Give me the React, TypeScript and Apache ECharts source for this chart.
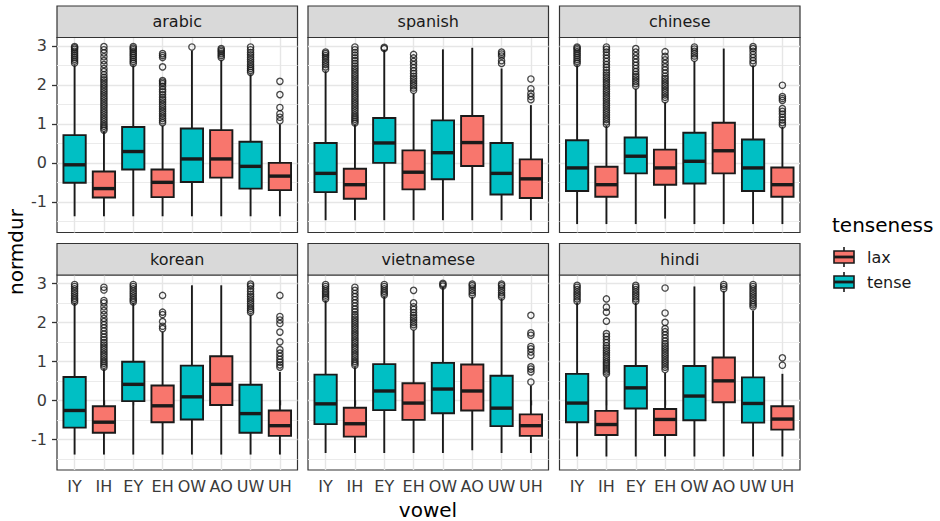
import React, { useEffect, useRef } from 'react';
import * as echarts from 'echarts';

const vowels = ['IY', 'IH', 'EY', 'EH', 'OW', 'AO', 'UW', 'UH'];
const vowelTense = [1, 0, 1, 0, 1, 0, 1, 0]; // 1 = tense, 0 = lax
const languages = ['arabic', 'spanish', 'chinese', 'korean', 'vietnamese', 'hindi'];
const yTicks = [-1, 0, 1, 2, 3];
const yMinorTicks = [-1.5, -0.5, 0.5, 1.5, 2.5];

// [lower whisker, Q1, median, Q3, upper whisker] per vowel
const arabicBoxes = [
  [-1.37, -0.51, -0.05, 0.71, 2.5], [-1.37, -0.89, -0.66, -0.22, 0.8], [-1.37, -0.17, 0.29, 0.92, 2.5],
  [-1.37, -0.88, -0.5, -0.17, 0.95], [-1.37, -0.49, 0.1, 0.88, 2.88], [-1.37, -0.38, 0.1, 0.84, 2.63],
  [-1.37, -0.66, -0.09, 0.54, 2.27], [-1.37, -0.7, -0.34, 0.0, 0.99],
];
const spanishBoxes = [
  [-1.47, -0.75, -0.27, 0.51, 2.35], [-1.47, -0.92, -0.56, -0.15, 0.97], [-1.47, 0.0, 0.51, 1.15, 2.9],
  [-1.47, -0.68, -0.24, 0.32, 1.78], [-1.47, -0.42, 0.26, 1.09, 2.91], [-1.47, -0.08, 0.52, 1.2, 2.95],
  [-1.47, -0.81, -0.27, 0.51, 2.42], [-1.47, -0.9, -0.41, 0.09, 1.48],
];
const chineseBoxes = [
  [-1.57, -0.72, -0.13, 0.58, 2.5], [-1.57, -0.87, -0.56, -0.1, 0.95], [-1.57, -0.27, 0.17, 0.65, 1.9],
  [-1.43, -0.56, -0.13, 0.34, 1.55], [-1.57, -0.53, 0.04, 0.77, 2.6], [-1.57, -0.27, 0.31, 1.03, 2.93],
  [-1.57, -0.72, -0.13, 0.6, 2.5], [-1.57, -0.87, -0.56, -0.12, 0.92],
];
const koreanBoxes = [
  [-1.39, -0.7, -0.26, 0.6, 2.5], [-1.39, -0.83, -0.56, -0.15, 0.8], [-1.39, -0.02, 0.41, 0.99, 2.5],
  [-1.39, -0.56, -0.14, 0.38, 1.75], [-1.39, -0.49, 0.09, 0.89, 2.95], [-1.39, -0.12, 0.41, 1.13, 2.95],
  [-1.39, -0.83, -0.34, 0.4, 2.2], [-1.39, -0.91, -0.65, -0.26, 0.73],
];
const vietnameseBoxes = [
  [-1.35, -0.61, -0.09, 0.66, 2.55], [-1.35, -0.93, -0.6, -0.19, 0.85], [-1.35, -0.25, 0.24, 0.93, 2.65],
  [-1.35, -0.5, -0.07, 0.44, 1.8], [-1.35, -0.33, 0.29, 0.96, 2.9], [-1.28, -0.26, 0.24, 0.92, 2.65],
  [-1.35, -0.66, -0.2, 0.63, 2.6], [-1.35, -0.91, -0.65, -0.36, 0.38],
];
const hindiBoxes = [
  [-1.44, -0.56, -0.07, 0.68, 2.5], [-1.44, -0.89, -0.62, -0.27, 0.6], [-1.44, -0.21, 0.32, 0.88, 2.5],
  [-1.44, -0.89, -0.49, -0.22, 0.7], [-1.44, -0.51, 0.11, 0.88, 2.92], [-1.44, -0.05, 0.5, 1.1, 2.8],
  [-1.44, -0.57, -0.08, 0.59, 2.3], [-1.44, -0.75, -0.48, -0.15, 0.68],
];

// outliers per vowel
const arabicOutliers = [
  [2.56, 2.61, 2.66, 2.71, 2.76, 2.81, 2.86, 2.91, 2.95, 2.98],
  [0.84, 0.89, 0.94, 0.99, 1.05, 1.11, 1.17, 1.23, 1.29, 1.35, 1.41, 1.47, 1.53, 1.59, 1.65, 1.71, 1.77, 1.83, 1.89, 1.95, 2.01, 2.07, 2.13, 2.19, 2.26, 2.34, 2.42, 2.52, 2.62, 2.72, 2.82, 2.9, 2.98],
  [2.55, 2.6, 2.65, 2.7, 2.75, 2.8, 2.85, 2.9, 2.94, 2.98],
  [1.03, 1.08, 1.14, 1.2, 1.26, 1.32, 1.38, 1.44, 1.5, 1.56, 1.62, 1.68, 1.75, 1.82, 1.88, 1.96, 2.03, 2.07, 2.11, 2.46, 2.7, 2.75, 2.8],
  [2.97],
  [2.7, 2.75, 2.8, 2.85, 2.89, 2.93],
  [2.32, 2.37, 2.42, 2.47, 2.53, 2.59, 2.65, 2.71, 2.77, 2.83, 2.9, 2.97],
  [1.08, 1.17, 1.26, 1.42, 1.75, 2.09],
];
const spanishOutliers = [
  [2.4, 2.46, 2.52, 2.58, 2.64, 2.7, 2.75, 2.8, 2.84],
  [1.02, 1.07, 1.12, 1.17, 1.22, 1.28, 1.34, 1.4, 1.46, 1.52, 1.58, 1.64, 1.7, 1.76, 1.82, 1.88, 1.94, 2.0, 2.06, 2.12, 2.18, 2.24, 2.3, 2.36, 2.42, 2.48, 2.55, 2.62, 2.69, 2.76, 2.83, 2.9, 2.97],
  [2.93, 2.96],
  [1.86, 1.92, 1.98, 2.04, 2.1, 2.16, 2.22, 2.29, 2.36, 2.44, 2.52, 2.6, 2.69, 2.78],
  [],
  [],
  [2.55, 2.62, 2.74, 2.79, 2.84],
  [1.62, 1.7, 1.78, 1.9, 2.15],
];
const chineseOutliers = [
  [2.55, 2.6, 2.65, 2.7, 2.75, 2.8, 2.85, 2.9, 2.94, 2.97],
  [0.99, 1.05, 1.11, 1.17, 1.23, 1.29, 1.35, 1.41, 1.47, 1.53, 1.59, 1.65, 1.71, 1.77, 1.83, 1.89, 1.95, 2.01, 2.07, 2.13, 2.19, 2.25, 2.31, 2.38, 2.45, 2.52, 2.6, 2.68, 2.76, 2.84, 2.91, 2.97],
  [1.97, 2.03, 2.09, 2.15, 2.21, 2.27, 2.34, 2.42, 2.5, 2.58, 2.66, 2.75, 2.84, 2.93],
  [1.62, 1.68, 1.74, 1.8, 1.86, 1.92, 1.98, 2.04, 2.1, 2.16, 2.22, 2.3, 2.38, 2.46, 2.55, 2.64, 2.73, 2.85],
  [2.68, 2.74, 2.8, 2.86, 2.92, 2.97],
  [],
  [2.55, 2.62, 2.7, 2.78, 2.86, 2.93, 2.98],
  [0.97, 1.03, 1.1, 1.17, 1.25, 1.32, 1.39, 1.6, 1.65, 1.7, 1.99],
];
const koreanOutliers = [
  [2.52, 2.57, 2.62, 2.68, 2.74, 2.8, 2.86, 2.92, 2.97],
  [0.85, 0.9, 0.95, 1.0, 1.06, 1.12, 1.18, 1.24, 1.3, 1.36, 1.42, 1.48, 1.55, 1.62, 1.7, 1.78, 1.86, 1.94, 2.02, 2.1, 2.2, 2.3, 2.4, 2.5, 2.56, 2.83, 2.9],
  [2.52, 2.57, 2.62, 2.68, 2.74, 2.8, 2.86, 2.92, 2.97],
  [1.84, 1.9, 2.02, 2.2, 2.26, 2.69],
  [],
  [],
  [2.26, 2.31, 2.36, 2.42, 2.48, 2.54, 2.6, 2.66, 2.72, 2.79, 2.86, 2.93, 2.98],
  [0.85, 0.91, 0.98, 1.05, 1.13, 1.21, 1.3, 1.5, 1.75, 1.97, 2.06, 2.15, 2.69],
];
const vietnameseOutliers = [
  [2.6, 2.65, 2.7, 2.75, 2.8, 2.86, 2.92, 2.97],
  [0.9, 0.95, 1.0, 1.06, 1.12, 1.18, 1.24, 1.3, 1.36, 1.42, 1.48, 1.54, 1.6, 1.66, 1.72, 1.78, 1.84, 1.9, 1.96, 2.02, 2.08, 2.14, 2.2, 2.27, 2.34, 2.42, 2.5, 2.58, 2.66, 2.74, 2.82, 2.9],
  [2.7, 2.75, 2.8, 2.86, 2.92, 2.97],
  [1.88, 1.94, 2.0, 2.06, 2.12, 2.18, 2.25, 2.33, 2.4, 2.5, 2.82],
  [2.93, 2.97, 3.0],
  [2.7, 2.76, 2.82, 2.88, 2.94, 2.98],
  [2.65, 2.7, 2.76, 2.82, 2.88, 2.94, 2.98],
  [0.47, 0.73, 0.8, 0.86, 1.15, 1.24, 1.32, 1.38, 1.67, 1.73, 2.18],
];
const hindiOutliers = [
  [2.54, 2.6, 2.66, 2.72, 2.78, 2.84, 2.9, 2.95],
  [0.68, 0.73, 0.78, 0.83, 0.88, 0.93, 0.98, 1.04, 1.1, 1.16, 1.22, 1.28, 1.34, 1.4, 1.48, 1.56, 1.64, 1.71, 2.03, 2.26, 2.39, 2.6],
  [2.54, 2.6, 2.66, 2.72, 2.78, 2.84, 2.9, 2.95],
  [0.79, 0.85, 0.91, 0.97, 1.03, 1.09, 1.15, 1.21, 1.27, 1.33, 1.39, 1.45, 1.52, 1.6, 1.68, 1.76, 1.84, 2.0, 2.24, 2.88],
  [],
  [2.86, 2.92, 2.97],
  [2.4, 2.45, 2.5, 2.56, 2.62, 2.68, 2.74, 2.8, 2.86, 2.92, 2.97],
  [0.9, 1.09],
];

const allBoxes = [arabicBoxes, spanishBoxes, chineseBoxes, koreanBoxes, vietnameseBoxes, hindiBoxes];
const allOutliers = [arabicOutliers, spanishOutliers, chineseOutliers, koreanOutliers, vietnameseOutliers, hindiOutliers];

const TENSE = '#00BFC4';
const LAX = '#F8766D';
const LINE = '#1a1a1a';
const FONT = 'DejaVu Sans';

// layout
const panelLeft = [57, 308, 559.5];
const panelW = 240.5;
const stripTop = [6, 243.5];
const stripH = 31.5;
const plotTop = [37.5, 275];
const plotH = 195;
const yMin = -1.786;
const yMax = 3.214;

const App = () => {
  const ref = useRef<HTMLDivElement>(null);
  useEffect(() => {
    document.body.style.margin = '0';
    const chart = echarts.init(ref.current!, null, { renderer: 'svg' });
    const grids: any[] = [];
    const xAxes: any[] = [];
    const yAxes: any[] = [];
    const series: any[] = [];
    const graphics: any[] = [];

    languages.forEach((lang, i) => {
      const r = Math.floor(i / 3);
      const c = i % 3;
      const isBottom = r === 1;
      const isLeft = c === 0;
      grids.push({
        left: panelLeft[c], top: plotTop[r], width: panelW, height: plotH,
        show: true, borderColor: '#333', borderWidth: 1.2, backgroundColor: '#fff', containLabel: false,
      });
      xAxes.push({
        type: 'value', gridIndex: i, min: -0.6, max: 7.6,
        axisLine: { show: false },
        axisTick: { show: isBottom, customValues: [0, 1, 2, 3, 4, 5, 6, 7], length: 5, lineStyle: { color: '#333', width: 1.3 } },
        axisLabel: {
          show: isBottom, customValues: [0, 1, 2, 3, 4, 5, 6, 7], margin: 8,
          formatter: (v: number) => vowels[Math.round(v)] ?? '',
          color: '#3a3a3a', fontSize: 16, fontFamily: FONT,
        },
        splitLine: { show: true, lineStyle: { color: '#E6E6E6', width: 1.4 } },
      });
      // minor horizontal grid
      yAxes.push({
        type: 'value', gridIndex: i, min: yMin, max: yMax, position: 'left',
        axisLine: { show: false },
        axisTick: { show: false, customValues: yMinorTicks },
        axisLabel: { show: false, customValues: yMinorTicks },
        splitLine: { show: true, lineStyle: { color: '#EBEBEB', width: 1.1 } },
      });
      // major horizontal grid + ticks/labels
      yAxes.push({
        type: 'value', gridIndex: i, min: yMin, max: yMax, position: 'left',
        axisLine: { show: false },
        axisTick: { show: isLeft, customValues: yTicks, length: 5, lineStyle: { color: '#333', width: 1.3 } },
        axisLabel: { show: isLeft, customValues: yTicks, margin: 10, color: '#3a3a3a', fontSize: 16, fontFamily: FONT },
        splitLine: { show: true, lineStyle: { color: '#E6E6E6', width: 1.4 } },
      });

      const boxes = allBoxes[i];
      series.push({
        type: 'custom', xAxisIndex: i, yAxisIndex: 2 * i + 1,
        data: boxes.map((b, j) => [j, b[0], b[1], b[2], b[3], b[4], vowelTense[j]]),
        encode: { x: 0, y: [1, 2, 3, 4, 5] },
        renderItem: (_params: any, api: any) => {
          const x = api.value(0);
          const lo = api.coord([x, api.value(1)]);
          const q1 = api.coord([x, api.value(2)]);
          const md = api.coord([x, api.value(3)]);
          const q3 = api.coord([x, api.value(4)]);
          const hi = api.coord([x, api.value(5)]);
          const w = api.size([0.76, 0])[0];
          const fill = api.value(6) === 1 ? TENSE : LAX;
          const cx = lo[0];
          return {
            type: 'group',
            children: [
              { type: 'line', shape: { x1: cx, y1: lo[1], x2: cx, y2: q1[1] }, style: { stroke: LINE, lineWidth: 1.9 } },
              { type: 'line', shape: { x1: cx, y1: q3[1], x2: cx, y2: hi[1] }, style: { stroke: LINE, lineWidth: 1.9 } },
              { type: 'rect', shape: { x: cx - w / 2, y: q3[1], width: w, height: q1[1] - q3[1] }, style: { fill, stroke: LINE, lineWidth: 1.9 } },
              { type: 'line', shape: { x1: cx - w / 2, y1: md[1], x2: cx + w / 2, y2: md[1] }, style: { stroke: LINE, lineWidth: 3.4 } },
            ],
          };
        },
        z: 3,
      });
      const outs: number[][] = [];
      allOutliers[i].forEach((arr, j) => arr.forEach((v) => outs.push([j, v])));
      series.push({
        type: 'scatter', xAxisIndex: i, yAxisIndex: 2 * i + 1,
        data: outs, symbol: 'circle', symbolSize: 6.3,
        itemStyle: { color: 'rgba(255,255,255,0)', borderColor: LINE, borderWidth: 1.3 },
        z: 4,
      });

      graphics.push({
        type: 'rect', shape: { x: panelLeft[c], y: stripTop[r], width: panelW, height: stripH },
        style: { fill: '#D9D9D9', stroke: '#333', lineWidth: 1.2 }, z: 10,
      });
      graphics.push({
        type: 'text', x: panelLeft[c] + panelW / 2, y: stripTop[r] + stripH / 2,
        style: { text: lang, fill: '#1A1A1A', font: `16px "${FONT}"`, align: 'center', verticalAlign: 'middle' }, z: 11,
      });
    });

    // axis titles
    graphics.push({
      type: 'text', x: 16, y: 252, rotation: Math.PI / 2,
      style: { text: 'normdur', fill: '#000', font: `20px "${FONT}"`, align: 'center', verticalAlign: 'middle' },
    });
    graphics.push({
      type: 'text', x: 428, y: 510,
      style: { text: 'vowel', fill: '#000', font: `20px "${FONT}"`, align: 'center', verticalAlign: 'middle' },
    });

    // legend
    graphics.push({
      type: 'text', x: 832, y: 225,
      style: { text: 'tenseness', fill: '#000', font: `20px "${FONT}"`, align: 'left', verticalAlign: 'middle' },
    });
    const legendItems = [
      { label: 'lax', color: LAX, cy: 257 },
      { label: 'tense', color: TENSE, cy: 282 },
    ];
    legendItems.forEach((it) => {
      graphics.push({ type: 'line', shape: { x1: 844, y1: it.cy - 10, x2: 844, y2: it.cy + 10 }, style: { stroke: LINE, lineWidth: 1.6 } });
      graphics.push({ type: 'rect', shape: { x: 834, y: it.cy - 6, width: 20, height: 12 }, style: { fill: it.color, stroke: LINE, lineWidth: 1.6 } });
      graphics.push({ type: 'line', shape: { x1: 834, y1: it.cy, x2: 854, y2: it.cy }, style: { stroke: LINE, lineWidth: 2.8 } });
      graphics.push({
        type: 'text', x: 867, y: it.cy,
        style: { text: it.label, fill: '#1A1A1A', font: `16px "${FONT}"`, align: 'left', verticalAlign: 'middle' },
      });
    });

    chart.setOption({
      animation: false,
      backgroundColor: '#fff',
      textStyle: { fontFamily: FONT },
      grid: grids,
      xAxis: xAxes,
      yAxis: yAxes,
      series,
      graphic: graphics,
    });
    return () => chart.dispose();
  }, []);
  return <div ref={ref} style={{ width: 940, height: 521 }} />;
};

export default App;
